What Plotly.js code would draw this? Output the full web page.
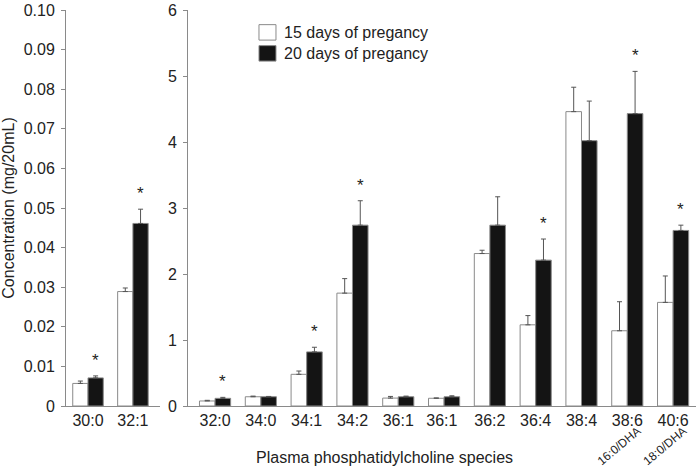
<!DOCTYPE html>
<html>
<head>
<meta charset="utf-8">
<script src="https://cdn.plot.ly/plotly-3.0.1.min.js"></script>
<style>html,body{margin:0;padding:0;background:#fff;}#chart{width:697px;height:468px;}</style>
</head>
<body>
<div id="chart"></div>
<script>
// Left panel data
var catsLeft = ["30:0", "32:1"];
var day15Left = [0.0057, 0.0289];
var day15LeftErr = [0.0006, 0.0009];
var day20Left = [0.0071, 0.0461];
var day20LeftErr = [0.0005, 0.0036];
var sigLeft = [true, true];

// Right panel data
var catsRight = ["32:0", "34:0", "34:1", "34:2", "36:1", "36:1 ", "36:2", "36:4", "38:4", "38:6", "40:6"];
var day15Right = [0.076, 0.14, 0.48, 1.71, 0.12, 0.117, 2.31, 1.23, 4.46, 1.14, 1.57];
var day15RightErr = [0.01, 0.01, 0.05, 0.22, 0.025, 0.005, 0.05, 0.14, 0.37, 0.44, 0.40];
var day20Right = [0.116, 0.14, 0.82, 2.74, 0.14, 0.14, 2.74, 2.21, 4.02, 4.43, 2.66];
var day20RightErr = [0.015, 0.005, 0.07, 0.37, 0.01, 0.015, 0.43, 0.32, 0.60, 0.64, 0.08];
var sigRight = [true, false, true, true, false, false, false, true, false, true, true];

var subLabels = {"38:6": "16:0/DHA", "40:6": "18:0/DHA"};
var seriesNames = ["15 days of pregancy", "20 days of pregancy"];

var leftTicks = [0, 0.01, 0.02, 0.03, 0.04, 0.05, 0.06, 0.07, 0.08, 0.09, 0.10];
var leftTickText = ["0", "0.01", "0.02", "0.03", "0.04", "0.05", "0.06", "0.07", "0.08", "0.09", "0.10"];

function zeros(n){var a=[];for(var i=0;i<n;i++)a.push(0);return a;}

var FONT = "Liberation Sans, Arial, sans-serif";
var whiteColor = "#ffffff", blackColor = "#141414", edgeColor = "#8a8a8a";
var whiteMarker = {color: whiteColor, line: {color: edgeColor, width: 1}};
var blackMarker = {color: blackColor, line: {color: edgeColor, width: 1}};
var errStyle = {color: "#555555", thickness: 1, width: 2.5};

var traces = [
  {type: "bar", name: seriesNames[0], x: catsLeft, y: day15Left, xaxis: "x", yaxis: "y", marker: whiteMarker,
   error_y: Object.assign({type: "data", symmetric: false, array: day15LeftErr, arrayminus: zeros(catsLeft.length)}, errStyle)},
  {type: "bar", name: seriesNames[1], x: catsLeft, y: day20Left, xaxis: "x", yaxis: "y", marker: blackMarker,
   error_y: Object.assign({type: "data", symmetric: false, array: day20LeftErr, arrayminus: zeros(catsLeft.length)}, errStyle)},
  {type: "bar", name: seriesNames[0], x: catsRight, y: day15Right, xaxis: "x2", yaxis: "y2", marker: whiteMarker,
   error_y: Object.assign({type: "data", symmetric: false, array: day15RightErr, arrayminus: zeros(catsRight.length)}, errStyle)},
  {type: "bar", name: seriesNames[1], x: catsRight, y: day20Right, xaxis: "x2", yaxis: "y2", marker: blackMarker,
   error_y: Object.assign({type: "data", symmetric: false, array: day20RightErr, arrayminus: zeros(catsRight.length)}, errStyle)}
];

var annotations = [];
var shapes = [];
var starFont = {family: FONT, size: 17, color: "#222"};
catsLeft.forEach(function(c, i){
  if (sigLeft[i]) annotations.push({xref: "x", yref: "y", x: i + 0.17, y: day20Left[i] + day20LeftErr[i],
    text: "*", showarrow: false, font: starFont, yanchor: "bottom", yshift: 4});
});
catsRight.forEach(function(c, i){
  if (sigRight[i]) annotations.push({xref: "x2", yref: "y2", x: i + 0.17, y: day20Right[i] + day20RightErr[i],
    text: "*", showarrow: false, font: starFont, yanchor: "bottom", yshift: 4});
  if (subLabels[c]) annotations.push({xref: "x2", yref: "paper", x: i - 0.18, y: 0, yshift: -40,
    xanchor: "center", yanchor: "middle",
    text: subLabels[c], showarrow: false, textangle: -40,
    font: {family: FONT, size: 12, color: "#222"}});
});
annotations.push({xref: "paper", yref: "paper", x: 0.505, y: 0, yshift: -51, yanchor: "middle",
  text: "Plasma phosphatidylcholine species", showarrow: false,
  font: {family: FONT, size: 16, color: "#222"}});

// Legend (boxes + labels), placed in paper coordinates
var legendColors = [whiteColor, blackColor];
var legX0 = 0.3063, legX1 = 0.3333, legRows = [0.9435, 0.8905], legH = 0.0195;
legendColors.forEach(function(col, k){
  shapes.push({type: "rect", xref: "paper", yref: "paper", x0: legX0, x1: legX1,
    y0: legRows[k] - legH, y1: legRows[k] + legH, fillcolor: col, line: {color: edgeColor, width: 1}});
  annotations.push({xref: "paper", yref: "paper", x: legX1 + 0.0095, y: legRows[k], xanchor: "left", yanchor: "middle",
    text: seriesNames[k], showarrow: false, font: {family: FONT, size: 16, color: "#222"}});
});

var layout = {
  width: 697, height: 468,
  margin: {l: 66, r: 1, t: 10, b: 62},
  paper_bgcolor: "#ffffff", plot_bgcolor: "#ffffff",
  font: {family: FONT, size: 16, color: "#222"},
  barmode: "group", bargap: 0.32, bargroupgap: 0,
  showlegend: false,
  xaxis: {domain: [0, 0.149], type: "category", range: [-0.49, 1.6], showline: true, linecolor: edgeColor,
    linewidth: 1, ticks: "", showgrid: false, zeroline: false},
  yaxis: {range: [0, 0.1], tickvals: leftTicks, ticktext: leftTickText, showline: true, linecolor: edgeColor,
    ticks: "outside", ticklen: 4, tickcolor: edgeColor, showgrid: false, zeroline: false, ticklabelstandoff: 3,
    automargin: false,
    title: {text: "Concentration (mg/20mL)", font: {size: 16}, standoff: 6}},
  xaxis2: {domain: [0.1937, 1], type: "category", range: [-0.59, 10.5], showline: true, linecolor: edgeColor,
    linewidth: 1, ticks: "", showgrid: false, zeroline: false, anchor: "y2"},
  yaxis2: {range: [0, 6], dtick: 1, anchor: "x2", showline: true, linecolor: edgeColor,
    ticks: "outside", ticklen: 4, tickcolor: edgeColor, showgrid: false, zeroline: false, ticklabelstandoff: 3},
  shapes: shapes,
  annotations: annotations
};

Plotly.newPlot("chart", traces, layout, {displayModeBar: false, staticPlot: true});
</script>
</body>
</html>
